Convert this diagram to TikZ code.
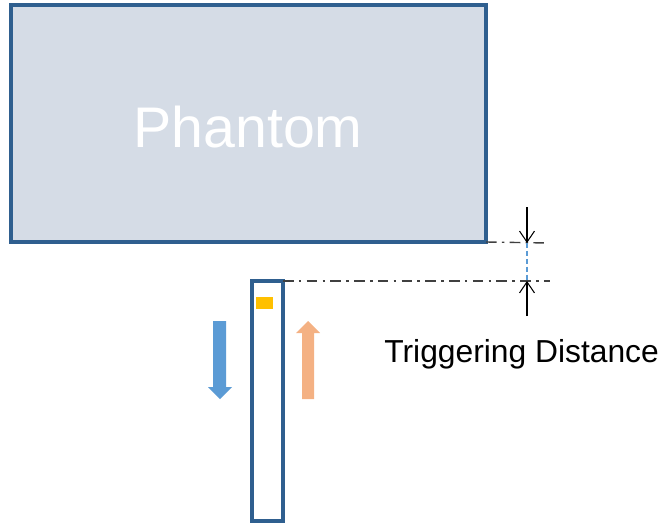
\documentclass[tikz,border=0pt]{standalone}
\usepackage{fontspec}
\setmainfont{Liberation Sans}
\usepackage{tikz}
\usetikzlibrary{arrows.meta}
\definecolor{frameblue}{HTML}{2F5F8F}
\definecolor{phantomfill}{HTML}{D5DCE6}
\definecolor{chipyellow}{HTML}{FFC000}
\definecolor{downblue}{HTML}{5B9BD5}
\definecolor{uporange}{HTML}{F4B183}
\tikzset{
  outline/.style={draw=frameblue, line width=2.2pt},
  guide/.style={black!75, line width=0.8pt, dash pattern=on 6pt off 3pt on 1.5pt off 3pt},
  dimarrow/.style={black, line width=0.6pt, -{Straight Barb[length=2.2mm,width=3mm]}}
}
\begin{document}
\begin{tikzpicture}[x=0.02cm, y=-0.02cm]
\useasboundingbox (0,0) rectangle (666,527);
\coordinate (ph1) at (11,5);
\coordinate (ph2) at (486,242);
\coordinate (bar1) at (252,281);
\coordinate (bar2) at (283,521);
\coordinate (gapTop) at (527,243);
\coordinate (gapBot) at (527,281);
\begin{scope}
% phantom block
\node[outline, fill=phantomfill, minimum width=475*0.02cm, minimum height=237*0.02cm,
  anchor=north west, inner sep=0pt, outer sep=0pt] (phantom) at (ph1) {};
\node[text=white, font=\fontsize{32.6}{36}\selectfont] (phantomtext) at (248,127) {Phantom};
% detector bar
\draw[outline, fill=white] (bar1) rectangle (bar2);
\fill[chipyellow] (256,297) rectangle (273,309);
% reference lines
\draw[guide] (phantom.south east) -- (548,243);
\draw[guide] (283,281) -- (550,281);
\draw[downblue, line width=0.6pt, dash pattern=on 3pt off 1.5pt] (gapTop) -- (gapBot);
% distance arrows
\coordinate (arrTop) at (527,207);
\coordinate (arrBot) at (527,316);
\draw[dimarrow] (arrTop) -- (gapTop);
\draw[dimarrow] (arrBot) -- (gapBot);
\node[font=\fontsize{18.1}{22}\selectfont, anchor=west, inner sep=0pt] (trigtext) at (384,354) {Triggering Distance};
% motion arrows
\fill[downblue] (213,321) -- (226,321) -- (226,387) -- (232,387) -- (220,399) -- (208,387) -- (213,387) -- cycle;
\fill[uporange] (302,399) -- (314,399) -- (314,333) -- (320,333) -- (308,321) -- (296,333) -- (302,333) -- cycle;
\end{scope}
\end{tikzpicture}
\end{document}
